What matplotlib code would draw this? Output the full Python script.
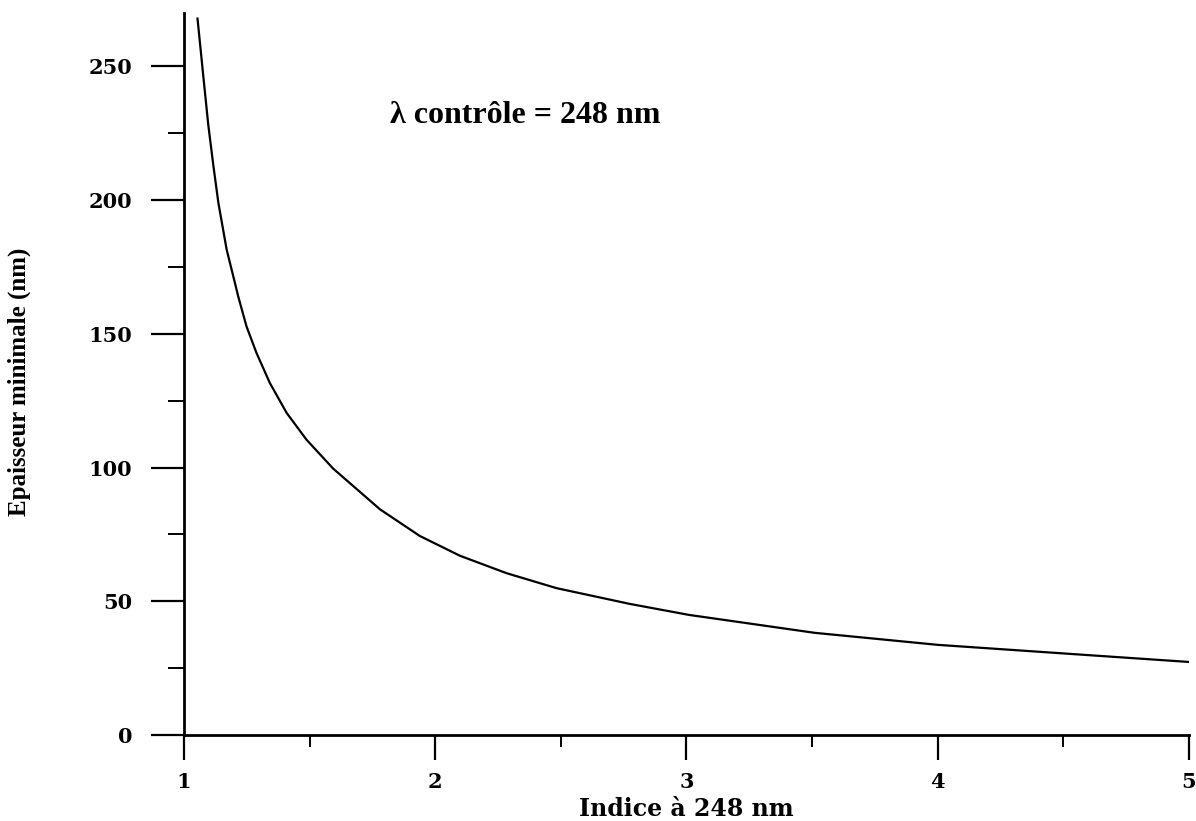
import matplotlib
matplotlib.use("Agg")
import matplotlib.pyplot as plt
from matplotlib.ticker import MultipleLocator

# Minimum thickness (nm) versus refractive index at 248 nm
indice = [1.054, 1.077, 1.097, 1.117, 1.137, 1.170, 1.203, 1.216, 1.249, 1.289,
          1.342, 1.409, 1.488, 1.594, 1.714, 1.780, 1.939, 2.099, 2.284, 2.483,
          2.775, 3.01, 3.51, 4.0, 4.53, 5.0]
epaisseur = [267.9, 246.4, 228.0, 213.0, 199.0, 181.5, 169.0, 164.0, 152.8, 142.8,
             131.6, 120.4, 110.4, 99.6, 89.8, 84.4, 74.4, 67.0, 60.5, 54.9,
             49.0, 44.9, 38.2, 33.7, 30.3, 27.3]

x_ticks = [1, 2, 3, 4, 5]
y_ticks = [0, 50, 100, 150, 200, 250]

tick_font = {"family": "DejaVu Serif", "weight": "bold", "size": 15}

fig = plt.figure(figsize=(11.96, 8.21), dpi=100)
ax = fig.add_axes([0.1538, 0.1048, 0.8403, 0.8794])

ax.plot(indice, epaisseur, color="black", lw=1.6, solid_joinstyle="round")

ax.set_xlim(1, 5)
ax.set_ylim(0, 270)

for side in ("top", "right"):
    ax.spines[side].set_visible(False)
for side in ("left", "bottom"):
    ax.spines[side].set_linewidth(2.0)

ax.set_xticks(x_ticks)
ax.set_yticks(y_ticks)
ax.xaxis.set_minor_locator(MultipleLocator(0.5))
ax.yaxis.set_minor_locator(MultipleLocator(25))

ax.tick_params(axis="x", which="major", direction="out", length=18, width=1.6, pad=9)
ax.tick_params(axis="x", which="minor", direction="out", length=8.6, width=1.4)
ax.tick_params(axis="y", which="major", direction="out", length=24, width=1.6, pad=13)
ax.tick_params(axis="y", which="minor", direction="out", length=11.5, width=1.4)

ax.set_xticklabels([str(t) for t in x_ticks], fontdict=tick_font)
ax.set_yticklabels([str(t) for t in y_ticks], fontdict=tick_font)

ax.set_xlabel("Indice à 248 nm", fontfamily="DejaVu Serif", fontweight="bold",
              fontsize=17, labelpad=3)
ax.set_ylabel("Epaisseur minimale (nm)", fontfamily="Liberation Serif",
              fontweight="bold", fontsize=18)
ax.yaxis.set_label_coords(-0.152, 0.489)

ax.text(1.82, 228.7, "λ contrôle = 248 nm", fontfamily="Liberation Serif",
        fontweight="bold", fontsize=23, ha="left", va="baseline")

fig.savefig("out.png", dpi=100, facecolor="white")
